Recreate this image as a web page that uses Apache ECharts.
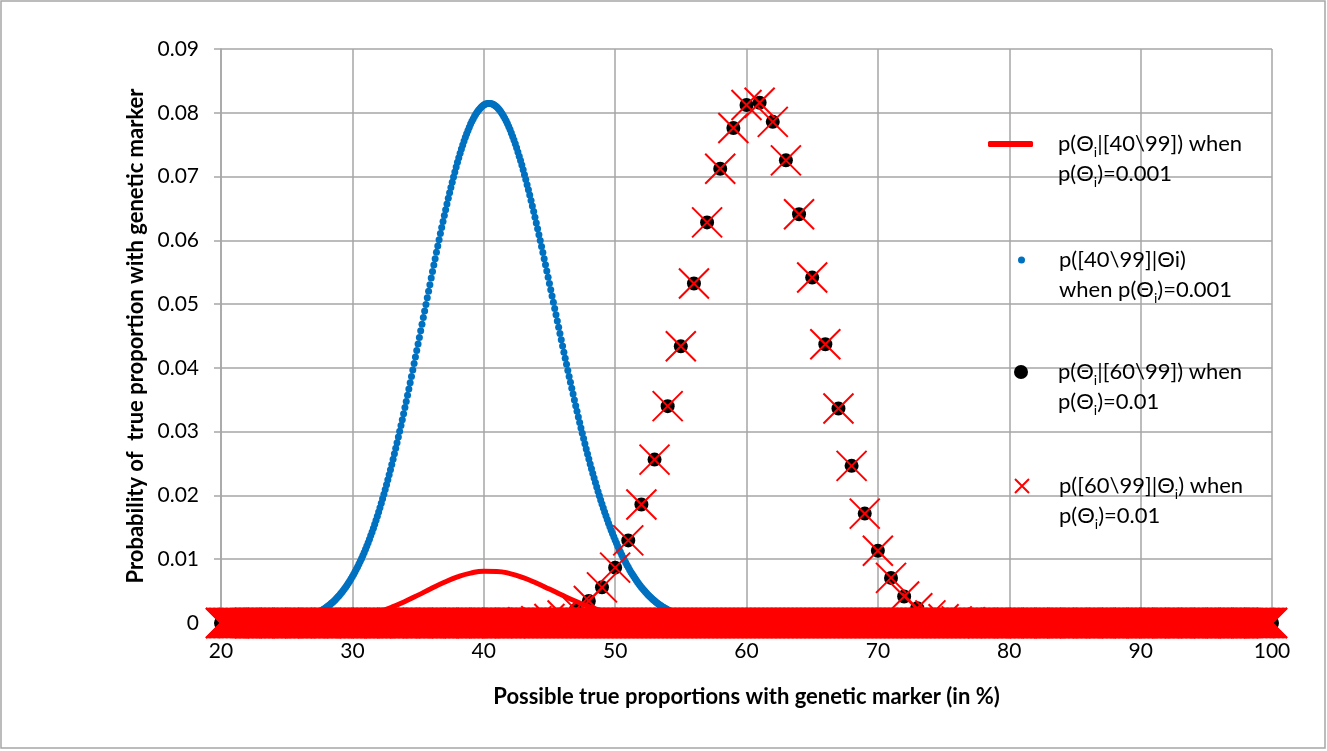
<!DOCTYPE html>
<html><head><meta charset="utf-8">
<script src="https://cdn.jsdelivr.net/npm/echarts@6/dist/echarts.min.js"></script>
<style>html,body{margin:0;padding:0;background:#fff}#c{width:1327px;height:751px}</style>
</head><body><div id="c"></div><script>
// ---------- DATA ----------
// integer theta positions (in %) of the 0.01-step series and of the red line
const thetaInt = [];
for (let v = 20; v <= 100; v++) thetaInt.push(v);

// red line: p(Θi|[40\99]) when p(Θi)=0.001, one value per integer %
const posterior40 = [
  0, 0, 0, 0.000002, 0.00001, 0.00003, 0.00006, 0.00013, 0.00024, 0.00043,
  0.00073, 0.00116, 0.00174, 0.00248, 0.00338, 0.00437, 0.00541, 0.00639, 0.00722, 0.00782,
  0.00812, 0.00809, 0.00774, 0.00711, 0.00627, 0.00532, 0.00434, 0.00341, 0.00257, 0.00187,
  0.00130, 0.00087, 0.00056, 0.00035, 0.00021, 0.00012, 0.00006, 0.00003, 0.00001, 0,
  0, 0, 0, 0, 0, 0, 0, 0, 0, 0,
  0, 0, 0, 0, 0, 0, 0, 0, 0, 0,
  0, 0, 0, 0, 0, 0, 0, 0, 0, 0,
  0, 0, 0, 0, 0, 0, 0, 0, 0, 0,
  0
];

// blue dots: p([40\99]|Θi) when p(Θi)=0.001, theta from 27.0 to 55.0 in 0.1 steps
const blueStart = 27.0, blueStep = 0.1;
const likelihood40 = [
  0.001279,0.001366,0.001459,0.001558,0.001663,0.001775,0.001893,0.002018,0.002148,0.002285,
  0.002428,0.002578,0.002737,0.002904,0.003081,0.003267,0.003461,0.003665,0.003878,0.004099,
  0.004330,0.004571,0.004824,0.005089,0.005366,0.005654,0.005955,0.006267,0.006592,0.006928,
  0.007276,0.007639,0.008017,0.008409,0.008815,0.009236,0.009671,0.010121,0.010585,0.011064,
  0.011557,0.012069,0.012597,0.013141,0.013700,0.014276,0.014867,0.015474,0.016097,0.016736,
  0.017391,0.018067,0.018759,0.019466,0.020188,0.020926,0.021679,0.022448,0.023232,0.024032,
  0.024847,0.025683,0.026531,0.027392,0.028266,0.029152,0.030051,0.030962,0.031886,0.032822,
  0.033771,0.034736,0.035709,0.036688,0.037674,0.038668,0.039668,0.040676,0.041691,0.042712,
  0.043741,0.044778,0.045814,0.046849,0.047884,0.048918,0.049951,0.050983,0.052014,0.053045,
  0.054075,0.055102,0.056118,0.057125,0.058122,0.059109,0.060086,0.061052,0.062009,0.062956,
  0.063893,0.064813,0.065714,0.066595,0.067458,0.068301,0.069125,0.069931,0.070716,0.071483,
  0.072231,0.072951,0.073644,0.074310,0.074949,0.075562,0.076147,0.076706,0.077239,0.077744,
  0.078223,0.078664,0.079073,0.079451,0.079797,0.080111,0.080394,0.080645,0.080865,0.081053,
  0.081210,0.081325,0.081407,0.081456,0.081473,0.081457,0.081409,0.081328,0.081215,0.081069,
  0.080890,0.080671,0.080423,0.080145,0.079836,0.079498,0.079130,0.078732,0.078304,0.077847,
  0.077359,0.076837,0.076291,0.075721,0.075127,0.074509,0.073867,0.073202,0.072512,0.071798,
  0.071060,0.070299,0.069523,0.068730,0.067921,0.067097,0.066256,0.065399,0.064527,0.063638,
  0.062733,0.061816,0.060892,0.059960,0.059021,0.058074,0.057120,0.056159,0.055190,0.054214,
  0.053231,0.052248,0.051265,0.050284,0.049303,0.048323,0.047343,0.046365,0.045387,0.044409,
  0.043433,0.042465,0.041505,0.040552,0.039605,0.038666,0.037735,0.036810,0.035892,0.034982,
  0.034079,0.033191,0.032314,0.031448,0.030594,0.029752,0.028921,0.028102,0.027294,0.026497,
  0.025712,0.024945,0.024191,0.023452,0.022725,0.022013,0.021314,0.020628,0.019957,0.019298,
  0.018654,0.018027,0.017415,0.016816,0.016231,0.015659,0.015102,0.014559,0.014029,0.013513,
  0.013011,0.012525,0.012052,0.011591,0.011143,0.010708,0.010286,0.009876,0.009479,0.009095,
  0.008723,0.008364,0.008016,0.007679,0.007353,0.007037,0.006732,0.006438,0.006154,0.005881,
  0.005619,0.005367,0.005123,0.004887,0.004660,0.004442,0.004232,0.004030,0.003837,0.003652,
  0.003476,0.003307,0.003143,0.002986,0.002836,0.002692,0.002553,0.002422,0.002296,0.002177,
  0.002064,0.001955,0.001851,0.001752,0.001656,0.001565,0.001479,0.001396,0.001319,0.001245,
  0.001176
];

// black dots: p(Θi|[60\99]) when p(Θi)=0.01, one value per integer %
const posterior60 = [
  0, 0, 0, 0, 0, 0, 0, 0, 0, 0,
  0, 0, 0, 0, 0, 0, 0, 0, 0, 0,
  0, 0, 0, 0.00013, 0.00030, 0.00064, 0.00117, 0.00206, 0.00346, 0.00559,
  0.00868, 0.01295, 0.01857, 0.02562, 0.03400, 0.04338, 0.05324, 0.06281, 0.07123, 0.07761,
  0.08122, 0.08158, 0.07858, 0.07254, 0.06410, 0.05416, 0.04371, 0.03364, 0.02464, 0.01715,
  0.01132, 0.00707, 0.00416, 0.00231, 0.00120, 0.00058, 0.00026, 0.00011, 0, 0,
  0, 0, 0, 0, 0, 0, 0, 0, 0, 0,
  0, 0, 0, 0, 0, 0, 0, 0, 0, 0,
  0
];
// red crosses: p([60\99]|Θi) when p(Θi)=0.01 (same values as the black dots)
const likelihood60 = posterior60.slice();
// the crosses also sit, densely packed, on zero along the whole axis
const crossBaseStart = 20, crossBaseEnd = 100, crossBaseStep = 0.1, crossBaseValue = 0;

const names = [
  'p(Θi|[40\\99]) when p(Θi)=0.001',
  'p([40\\99]|Θi) when p(Θi)=0.001',
  'p(Θi|[60\\99]) when p(Θi)=0.01',
  'p([60\\99]|Θi) when p(Θi)=0.01'
];
const legendText = {};
legendText[names[0]] = '{h| }\np(Θ{s|i}|[40\\99]) when\np(Θ{s|i})=0.001';
legendText[names[1]] = '{h| }\np([40\\99]|Θi)\nwhen p(Θ{s|i})=0.001';
legendText[names[2]] = '{h| }\np(Θ{s|i}|[60\\99]) when\np(Θ{s|i})=0.01';
legendText[names[3]] = '{h| }\np([60\\99]|Θ{s|i}) when\np(Θ{s|i})=0.01';

// ---------- BUILD ----------
const FONT = 'Lato, "Open Sans", sans-serif';
const GRID_C = '#A6A6A6';
const X_PATH = 'path://M0,0L10,10M10,0L0,10';
const pts = (xs, ys) => xs.map((x, i) => [x, ys[i]]);
const blueXs = likelihood40.map((_, i) => +(blueStart + i * blueStep).toFixed(1));
const crossBase = [];
for (let i = 0; i <= Math.round((crossBaseEnd - crossBaseStart) / crossBaseStep); i++) {
  crossBase.push([+(crossBaseStart + i * crossBaseStep).toFixed(1), crossBaseValue]);
}

const textStyleBase = {fontFamily: FONT, fontSize: 22, lineHeight: 30, color: '#000',
  rich: {
    h: {fontFamily: FONT, fontSize: 22, lineHeight: 30, color: 'rgba(0,0,0,0)'},
    s: {fontFamily: FONT, fontSize: 14, lineHeight: 16, verticalAlign: 'bottom', color: '#000'}
  }};
function mkLegend(name, left, top, w, h, padLeft, icon) {
  const d = {name: name};
  if (icon) d.icon = icon;
  return {
    data: [d], left: left, top: top, orient: 'vertical', padding: 0,
    itemWidth: w, itemHeight: h, selectedMode: false,
    formatter: n => legendText[n],
    textStyle: Object.assign({}, textStyleBase, {padding: [0, 0, 0, padLeft]})
  };
}

const chart = echarts.init(document.getElementById('c'), null, {renderer: 'canvas'});
chart.setOption({
  animation: false,
  backgroundColor: '#fff',
  graphic: [{type: 'rect', silent: true, z: -10,
    shape: {x: 1, y: 1, width: 1324, height: 747},
    style: {fill: null, stroke: GRID_C, lineWidth: 1.5}}],
  grid: {left: 221, right: 55, top: 49, bottom: 128},
  legend: [
    mkLegend(names[0], 988, 99, 45, 6, 20, 'roundRect'),
    mkLegend(names[1], 1018, 215, 7, 7, 29),
    mkLegend(names[2], 1014, 327, 14, 14, 25),
    mkLegend(names[3], 1014, 441, 14, 14, 25)
  ],
  xAxis: {
    type: 'value', min: 20, max: 100, interval: 10,
    name: 'Possible true proportions with genetic marker (in %)',
    nameLocation: 'middle', nameGap: 63,
    nameTextStyle: {fontFamily: FONT, fontWeight: 'bold', fontSize: 22, color: '#000'},
    axisLine: {show: true, onZero: false, lineStyle: {color: GRID_C, width: 1.5}},
    axisTick: {show: true, length: 6, lineStyle: {color: GRID_C, width: 1.5}},
    splitLine: {show: true, lineStyle: {color: GRID_C, width: 1.5}},
    axisLabel: {fontFamily: FONT, fontSize: 21, color: '#000', margin: 18}
  },
  yAxis: {
    type: 'value', min: 0, max: 0.09, interval: 0.01,
    name: 'Probability of  true proportion with genetic marker',
    nameLocation: 'middle', nameGap: 70,
    nameTextStyle: {fontFamily: FONT, fontWeight: 'bold', fontSize: 22, color: '#000'},
    axisLine: {show: true, lineStyle: {color: GRID_C, width: 1.5}},
    axisTick: {show: true, length: 7, lineStyle: {color: GRID_C, width: 1.5}},
    splitLine: {show: true, lineStyle: {color: GRID_C, width: 1.5}},
    axisLabel: {fontFamily: FONT, fontSize: 21, color: '#000', margin: 22}
  },
  series: [
    {type: 'line', name: names[0], data: pts(thetaInt, posterior40), smooth: true,
     symbol: 'none', showSymbol: false, color: '#FF0000',
     lineStyle: {color: '#FF0000', width: 5}, itemStyle: {color: '#FF0000'}},
    {type: 'scatter', name: names[1], data: pts(blueXs, likelihood40), symbol: 'circle',
     symbolSize: 7, itemStyle: {color: '#0070C0', opacity: 1}, progressive: 0},
    {type: 'scatter', name: names[2], data: pts(thetaInt, posterior60), symbol: 'circle',
     symbolSize: 14, itemStyle: {color: '#000000', opacity: 1}, clip: false, progressive: 0},
    {type: 'scatter', name: names[3], data: pts(thetaInt, likelihood60).concat(crossBase),
     symbol: X_PATH, symbolSize: 30, clip: false, progressive: 0,
     itemStyle: {color: '#FF0000', borderColor: '#FF0000', borderWidth: 2, opacity: 1}}
  ]
});
</script></body></html>
